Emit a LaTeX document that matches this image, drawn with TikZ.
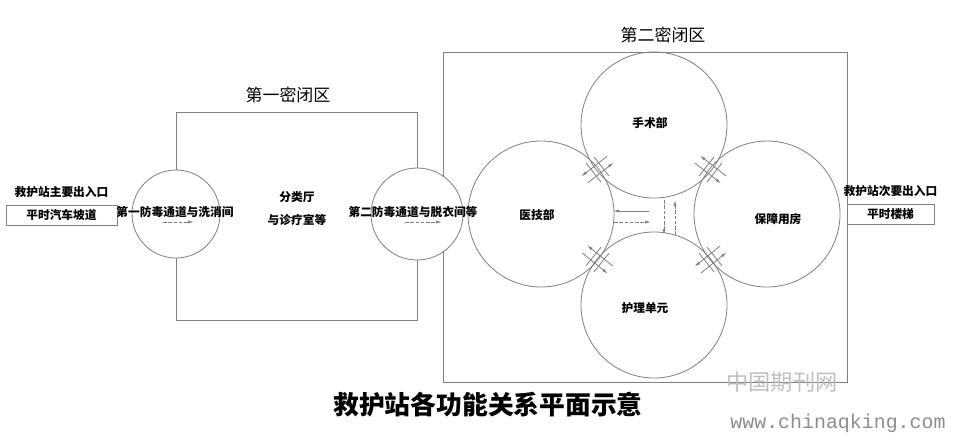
\documentclass[tikz,border=0pt]{standalone}
\usepackage{fontspec}
\newfontfamily\cjk{Noto Sans CJK SC}
\newfontfamily\wmfont{Liberation Mono}
\usetikzlibrary{calc, positioning, arrows.meta}

\begin{document}
\begin{tikzpicture}[x=0.03cm, y=-0.03cm,
	wall/.style={draw=black!50, line width=0.7pt},
	pass/.style={draw=black!50, line width=0.7pt, dash pattern=on 3pt off 1.5pt},
	tip/.style={-{Latex[length=5pt,width=2.6pt]}},
	lbl/.style={font=\cjk\bfseries\fontsize{10}{12}\selectfont, inner sep=0pt},
	zone/.style={font=\cjk\fontsize{14.5}{16}\selectfont, inner sep=0pt},
	gate/.style={draw=black!50, line width=0.7pt, minimum height=0.6cm, inner sep=0pt,
		font=\cjk\bfseries\fontsize{10}{12}\selectfont}]
	\useasboundingbox (0,0) rectangle (954,439);
	\coordinate (fd1) at (176,214);
	\coordinate (fd2) at (417,214);
	\coordinate (ss) at (654,125);
	\coordinate (yj) at (541,214);
	\coordinate (bz) at (767,214);
	\coordinate (hl) at (654,305);
	% rooms
	\draw[wall] (fd1) circle (44);
	\draw[wall] (fd2) circle (46);
	\foreach \r in {ss,yj,bz,hl}
		\draw[wall] (\r) circle (73);
	% sealed zones
	\draw[wall] (176,170) -- (176,112) -- (417,112) -- (417,168);
	\draw[wall] (176,258) -- (176,320) -- (417,320) -- (417,260);
	\draw[wall] (443,176) -- (443,52) -- (847,52) -- (847,382) -- (443,382) -- (443,252);
	\node[zone] (z1) at (288,95) {第一密闭区};
	\node[zone] (z2) at (663,35) {第二密闭区};
	% entrances
	\node[gate, minimum width=3.33cm] (zr) at (61.5,215) {平时汽车坡道};
	\node[lbl, above=0.2cm of zr] (zrt) {救护站主要出入口};
	\node[gate, minimum width=2.61cm] (cr) at (890.5,214) {平时楼梯};
	\node[lbl, above=0.2cm of cr] (crt) {救护站次要出入口};
	% labels
	\node[lbl] (t1) at (175,212) {第一防毒通道与洗消间};
	\node[lbl] (t2) at (413,212) {第二防毒通道与脱衣间等};
	\node[lbl] (fl) at (297,197) {分类厅};
	\node[lbl, below=0.33cm of fl] (zl) {与诊疗室等};
	\node[lbl] (tss) at (650,123) {手术部};
	\node[lbl] (tyj) at (537,215) {医技部};
	\node[lbl] (tbz) at (778,219) {保障用房};
	\node[lbl] (thl) at (645,308) {护理单元};
	% passages
	\draw[pass, tip] (163,222) -- (194,222);
	\draw[pass, tip] (405,222) -- (442,222);
	\draw[wall, tip] (649,211) -- (613,211);
	\draw[pass, tip] (614,222) -- (651,222);
	\draw[pass, tip] (664,200) -- (664,235);
	\draw[pass, tip] (675,235) -- (675,200);
	\foreach \p/\q/\a in {yj/ss/38, ss/bz/-38, yj/hl/-39, hl/bz/39}
	{
		\begin{scope}[shift={($(\p)!0.5!(\q)$)}, rotate=\a]
			\draw[wall, tip] (16,-4.5) -- (-17,-4.5);
			\draw[wall, tip] (-16,4.5) -- (17,4.5);
			\draw[wall] (-5,-12) -- (-5,12);
			\draw[wall] (5,-12) -- (5,12);
		\end{scope}
	}
	% caption
	\node[font=\cjk\bfseries\fontsize{22}{24}\selectfont] (cap) at (488,405) {救护站各功能关系平面示意};
	\node[text=black!25, font=\cjk\fontsize{19}{20}\selectfont] (wm) at (782,382) {中国期刊网};
	\node[text=black!45, font=\wmfont\fontsize{17}{18}\selectfont] (url) at (838,423) {www.chinaqking.com};
\end{tikzpicture}
\end{document}
